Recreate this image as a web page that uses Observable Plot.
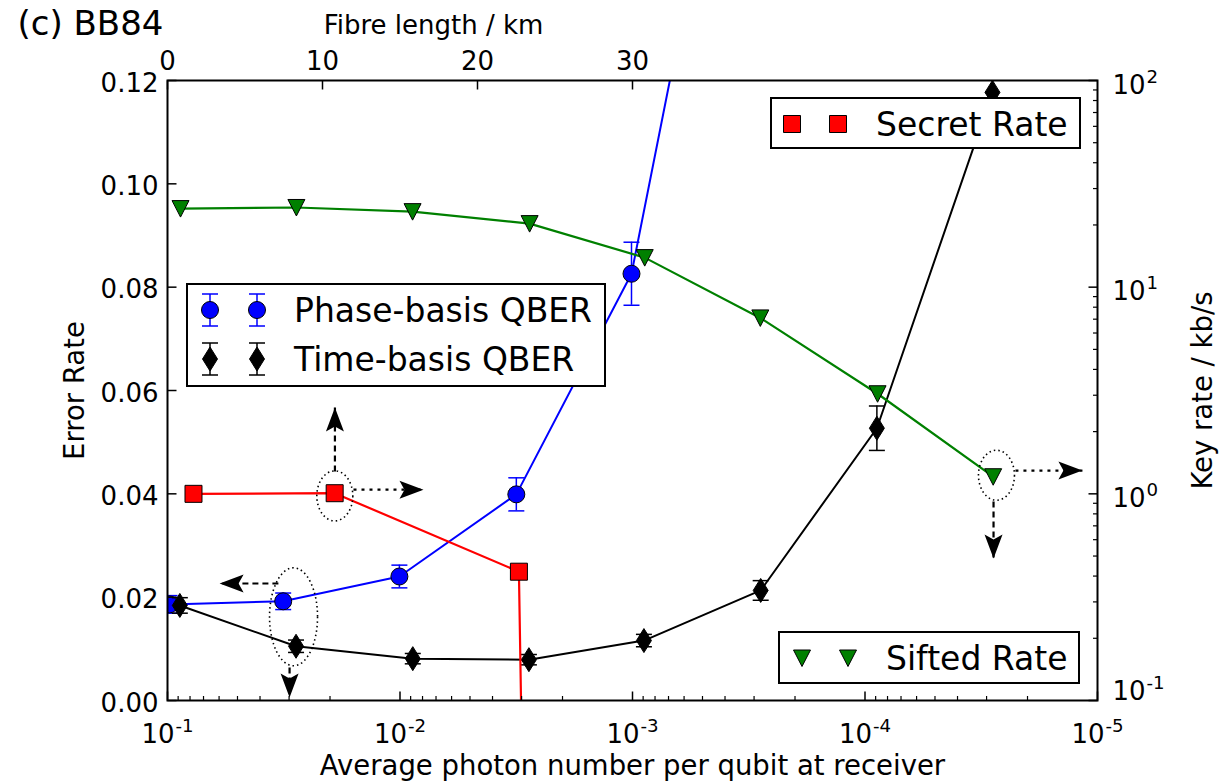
<!DOCTYPE html>
<html>
<head>
<meta charset="utf-8">
<script src="https://cdn.jsdelivr.net/npm/d3@7"></script>
<script src="https://cdn.jsdelivr.net/npm/@observablehq/plot@0.6"></script>
<style>
  html, body { margin: 0; padding: 0; background: #fff; }
  #chart { position: relative; width: 1226px; height: 782px; font-family: "DejaVu Sans", sans-serif; }
  #chart svg { display: block; }
  #chart svg.legends { position: absolute; left: 0; top: 0; pointer-events: none; }
</style>
</head>
<body>
<div id="chart"></div>
<script>
// ---------- data ----------
// Phase-basis QBER (left axis) vs mean photon number per qubit
const phaseMu   = [0.098, 0.0318, 0.01006, 0.00316, 0.00101, 0.000316];
const phaseQber = [0.0186, 0.0192, 0.0240, 0.0399, 0.0826, 0.197];
const phaseSd   = [0.0017, 0.0016, 0.0022, 0.0032, 0.0061, 0.012];

// Time-basis QBER (left axis)
const timeMu   = [0.0885, 0.0280, 0.00881, 0.00279, 0.000893, 0.000281, 0.0000889, 0.0000283];
const timeQber = [0.0184, 0.0105, 0.0081, 0.0079, 0.0116, 0.0213, 0.0527, 0.1177];
const timeSd   = [0.0015, 0.0012, 0.0010, 0.0010, 0.0012, 0.0019, 0.0043, 0.0060];

// Sifted key rate, kb/s (right axis)
const siftedMu   = [0.0879, 0.0279, 0.00883, 0.00277, 0.000886, 0.000282, 0.0000883, 0.0000281];
const siftedRate = [24.0, 24.3, 23.2, 20.3, 13.9, 7.1, 3.05, 1.21];

// Secret key rate, kb/s (right axis)
const secretMu   = [0.0773, 0.0191, 0.00308, 0.00282];
const secretRate = [1.0, 1.007, 0.42, 0.001];

// Axis domains and ticks ("^" marks an exponent)
const muDomain   = [1e-1, 1e-5];
const qberDomain = [0, 0.12];
const rateDomain = [0.1, 100];
const muTicks       = [1e-1, 1e-2, 1e-3, 1e-4, 1e-5];
const muTickLabels  = ["10^-1", "10^-2", "10^-3", "10^-4", "10^-5"];
const qberTicks      = [0, 0.02, 0.04, 0.06, 0.08, 0.10, 0.12];
const qberTickLabels = ["0.00", "0.02", "0.04", "0.06", "0.08", "0.10", "0.12"];
const rateTicks      = [0.1, 1, 10, 100];
const rateTickLabels = ["10^-1", "10^0", "10^1", "10^2"];
const fibreTicks      = [0, 10, 20, 30];
const fibreTickLabels = ["0", "10", "20", "30"];
const fibreKmPerDecade = 15;   // fibre loss: 15 km of fibre per decade of mu

// Call-outs: rings around points and the arrows pointing to their axis
const ringMu   = [0.01907, 0.0287, 0.0000272];
const ringQber = [0.0396, 0.0162, 0.0436];
const arrowFromMu   = [0.01905, 0.01585, 0.03334, 0.02985, 0.00002254, 0.0000280];
const arrowFromQber = [0.0443, 0.0408, 0.02265, 0.00639, 0.0445, 0.0385];
const arrowToMu     = [0.01905, 0.007925, 0.0597, 0.02985, 0.00001161, 0.0000280];
const arrowToQber   = [0.0567, 0.0408, 0.02265, 0.00058, 0.0445, 0.02748];

// ---------- helpers ----------
const log10 = Math.log10;
// map a key rate (log right axis) onto the error-rate coordinate of the left axis
const rateToY = r => qberDomain[0] +
  (log10(r) - log10(rateDomain[0])) / (log10(rateDomain[1]) - log10(rateDomain[0])) * (qberDomain[1] - qberDomain[0]);
const kmToMu = km => muDomain[0] * Math.pow(10, -km / fibreKmPerDecade);

const phase  = phaseMu.map((mu, i) => ({mu, q: phaseQber[i], sd: phaseSd[i]}));
const time   = timeMu.map((mu, i) => ({mu, q: timeQber[i], sd: timeSd[i]}));
const sifted = siftedMu.map((mu, i) => ({mu, q: rateToY(siftedRate[i])}));
const secret = secretMu.map((mu, i) => ({mu, q: rateToY(secretRate[i])}));
const rings  = ringMu.map((mu, i) => ({mu, q: ringQber[i], tall: i === 1}));
const arrows = arrowFromMu.map((mu, i) => ({
  x1: mu, y1: arrowFromQber[i], x2: arrowToMu[i], y2: arrowToQber[i],
  rot: mu === arrowToMu[i] ? (arrowToQber[i] > arrowFromQber[i] ? 0 : 180) : (arrowToMu[i] < mu ? 90 : -90),
  dotted: mu !== arrowToMu[i] && i !== 2
}));
const rateLabels = rateTicks.map((r, i) => ({r, label: rateTickLabels[i], bottom: i === 0}));

const minorDecades = (lo, hi) => {
  const out = [];
  for (let e = lo; e < hi; e++) for (let k = 2; k <= 9; k++) out.push(k * Math.pow(10, e));
  return out;
};
const muMinor   = minorDecades(-5, -1);
const rateMinor = minorDecades(-1, 2);

// ---------- marker shapes ----------
const sym = {
  circle:  {draw(c) { c.moveTo(8.5, 0); c.arc(0, 0, 8.5, 0, 2 * Math.PI); c.closePath(); }},
  diamond: {draw(c) { c.moveTo(0, -12); c.lineTo(7.5, 0); c.lineTo(0, 12); c.lineTo(-7.5, 0); c.closePath(); }},
  square:  {draw(c) { c.rect(-8.5, -8.5, 17, 17); }},
  triDown: {draw(c) { c.moveTo(-8.5, -8); c.lineTo(8.5, -8); c.lineTo(0, 8.5); c.closePath(); }},
  cap:     {draw(c) { c.moveTo(-8, 0); c.lineTo(8, 0); }},
  tickMajor: {draw(c) { c.moveTo(0, 0); c.lineTo(0, -9); }},
  tickMinor: {draw(c) { c.moveTo(0, 0); c.lineTo(0, -4.5); }},
  head:    {draw(c) { c.moveTo(0, 0); c.lineTo(9, 24); c.lineTo(0, 19); c.lineTo(-9, 24); c.closePath(); }}
};
function ellipse(rx, ry) {
  const k = 0.5523;
  return {draw(c) {
    c.moveTo(rx, 0);
    c.bezierCurveTo(rx, ry * k, rx * k, ry, 0, ry);
    c.bezierCurveTo(-rx * k, ry, -rx, ry * k, -rx, 0);
    c.bezierCurveTo(-rx, -ry * k, -rx * k, -ry, 0, -ry);
    c.bezierCurveTo(rx * k, -ry, rx, -ry * k, rx, 0);
    c.closePath();
  }};
}

const BLUE = "#0000ff", RED = "#ff0000", GREEN = "#008000", BLACK = "#000000";
const FS = 26, LABEL_FS = 27.5;

function errorBars(data, color) {
  return [
    Plot.ruleX(data, {x: "mu", y1: d => d.q - d.sd, y2: d => d.q + d.sd, stroke: color, strokeWidth: 1.5, clip: true}),
    Plot.dot(data, {x: "mu", y: d => d.q + d.sd, symbol: sym.cap, fill: "none", stroke: color, strokeWidth: 1.5, clip: true}),
    Plot.dot(data, {x: "mu", y: d => d.q - d.sd, symbol: sym.cap, fill: "none", stroke: color, strokeWidth: 1.5, clip: true})
  ];
}

const chart = Plot.plot({
  width: 1226,
  height: 782,
  marginTop: 80, marginRight: 129, marginBottom: 82, marginLeft: 167,
  style: {fontFamily: '"DejaVu Sans", sans-serif', fontSize: FS + "px", color: "black", background: "white"},
  x: {type: "log", domain: muDomain, axis: null},
  y: {domain: qberDomain, axis: null},
  marks: [
    // phase-basis QBER
    ...errorBars(phase, BLUE),
    Plot.line(phase, {x: "mu", y: "q", stroke: BLUE, strokeWidth: 2, clip: true}),
    Plot.dot(phase, {x: "mu", y: "q", symbol: sym.circle, fill: BLUE, stroke: BLACK, strokeWidth: 1, clip: true}),
    // time-basis QBER
    ...errorBars(time, BLACK),
    Plot.line(time, {x: "mu", y: "q", stroke: BLACK, strokeWidth: 2, clip: true}),
    Plot.dot(time, {x: "mu", y: "q", symbol: sym.diamond, fill: BLACK, stroke: BLACK, strokeWidth: 1}),
    // sifted rate (right axis)
    Plot.line(sifted, {x: "mu", y: "q", stroke: GREEN, strokeWidth: 2.2, clip: true}),
    Plot.dot(sifted, {x: "mu", y: "q", symbol: sym.triDown, fill: GREEN, stroke: BLACK, strokeWidth: 1}),
    // secret rate (right axis)
    Plot.line(secret, {x: "mu", y: "q", stroke: RED, strokeWidth: 2.2, clip: true}),
    Plot.dot(secret, {x: "mu", y: "q", symbol: sym.square, fill: RED, stroke: BLACK, strokeWidth: 1, clip: true}),
    // call-outs
    Plot.dot(rings.filter(d => !d.tall), {x: "mu", y: "q", symbol: ellipse(18, 25), fill: "none", stroke: BLACK, strokeWidth: 1.6, strokeDasharray: "1.5,3"}),
    Plot.dot(rings.filter(d => d.tall), {x: "mu", y: "q", symbol: ellipse(24, 49), fill: "none", stroke: BLACK, strokeWidth: 1.6, strokeDasharray: "1.5,3"}),
    Plot.link(arrows.filter(d => d.dotted), {x1: "x1", y1: "y1", x2: "x2", y2: "y2", stroke: BLACK, strokeWidth: 2.2, strokeDasharray: "3,5"}),
    Plot.link(arrows.filter(d => !d.dotted), {x1: "x1", y1: "y1", x2: "x2", y2: "y2", stroke: BLACK, strokeWidth: 2.2, strokeDasharray: "6,4"}),
    Plot.dot(arrows, {x: "x2", y: "y2", rotate: "rot", symbol: sym.head, fill: BLACK, stroke: "none"}),
    // bottom axis: mean photon number (log, decreasing)
    Plot.dot(muTicks, {x: d => d, frameAnchor: "bottom", symbol: sym.tickMajor, fill: "none", stroke: BLACK, strokeWidth: 1.5}),
    Plot.dot(muMinor, {x: d => d, frameAnchor: "bottom", symbol: sym.tickMinor, fill: "none", stroke: BLACK, strokeWidth: 1.2}),
    Plot.text(muTicks, {x: d => d, frameAnchor: "bottom", dy: 34, lineAnchor: "middle", textAnchor: "middle", text: (d, i) => muTickLabels[i], fontSize: FS}),
    // top axis: fibre length
    Plot.dot(fibreTicks, {x: kmToMu, frameAnchor: "top", rotate: 180, symbol: sym.tickMajor, fill: "none", stroke: BLACK, strokeWidth: 1.5}),
    Plot.text(fibreTicks, {x: kmToMu, frameAnchor: "top", dy: -19, lineAnchor: "middle", textAnchor: "middle", text: (d, i) => fibreTickLabels[i], fontSize: FS}),
    // left axis: error rate
    Plot.dot(qberTicks, {y: d => d, frameAnchor: "left", rotate: 90, symbol: sym.tickMajor, fill: "none", stroke: BLACK, strokeWidth: 1.5}),
    Plot.text(qberTicks, {y: d => d, frameAnchor: "left", dx: -9, dy: 3, lineAnchor: "middle", textAnchor: "end", text: (d, i) => qberTickLabels[i], fontSize: FS}),
    // right axis: key rate (log); the lowest label sits a little above its tick
    Plot.dot(rateTicks, {y: rateToY, frameAnchor: "right", rotate: -90, symbol: sym.tickMajor, fill: "none", stroke: BLACK, strokeWidth: 1.5}),
    Plot.dot(rateMinor, {y: rateToY, frameAnchor: "right", rotate: -90, symbol: sym.tickMinor, fill: "none", stroke: BLACK, strokeWidth: 1.2}),
    Plot.text(rateLabels.filter(d => !d.bottom), {y: d => rateToY(d.r), frameAnchor: "right", dx: 15, dy: 5, lineAnchor: "middle", textAnchor: "start", text: "label", fontSize: FS}),
    Plot.text(rateLabels.filter(d => d.bottom), {y: d => rateToY(d.r), frameAnchor: "right", dx: 15, dy: -9, lineAnchor: "middle", textAnchor: "start", text: "label", fontSize: FS}),
    // titles
    Plot.text(["Average photon number per qubit at receiver"], {frameAnchor: "bottom", dy: 66, lineAnchor: "middle", textAnchor: "middle", text: d => d, fontSize: LABEL_FS}),
    Plot.text(["Error Rate"], {frameAnchor: "left", dx: -92, rotate: -90, lineAnchor: "middle", textAnchor: "middle", text: d => d, fontSize: LABEL_FS}),
    Plot.text(["Key rate / kb/s"], {frameAnchor: "right", dx: 106, rotate: -90, lineAnchor: "middle", textAnchor: "middle", text: d => d, fontSize: LABEL_FS}),
    Plot.text(["Fibre length / km"], {frameAnchor: "top-left", dx: 266, dy: -55, lineAnchor: "middle", textAnchor: "middle", text: d => d, fontSize: 26}),
    Plot.text(["(c) BB84"], {frameAnchor: "top-left", dx: -150, dy: -56, lineAnchor: "middle", textAnchor: "start", text: d => d, fontSize: 34}),
    Plot.frame({stroke: BLACK, strokeWidth: 2})
  ]
});

// typeset "10^n" tick labels with a raised, smaller exponent
d3.select(chart).selectAll("text").each(function() {
  const t = this.textContent;
  const m = /^(\d+)\^(.+)$/.exec(t);
  if (!m) return;
  const sel = d3.select(this);
  sel.text(m[1]);
  sel.append("tspan").attr("dy", "-0.62em").attr("dx", "0.05em").attr("font-size", "0.7em").text(m[2]);
});

const root = document.getElementById("chart");
root.appendChild(chart);

// ---------- legends ----------
const legends = [
  {left: 770, top: 97, w: 311, h: 52, iconX: [22, 68], textX: 106,
   rows: [{label: "Secret Rate", y: 27, shape: sym.square, fill: RED}]},
  {left: 186, top: 283, w: 420, h: 104, iconX: [24, 71], textX: 108,
   rows: [{label: "Phase-basis QBER", y: 27, shape: sym.circle, fill: BLUE, bar: BLUE},
          {label: "Time-basis QBER", y: 76, shape: sym.diamond, fill: BLACK, bar: BLACK}]},
  {left: 778, top: 631, w: 302, h: 53, iconX: [24, 70], textX: 108,
   rows: [{label: "Sifted Rate", y: 27, shape: sym.triDown, fill: GREEN}]}
];
const pathOf = s => { const p = d3.path(); s.draw(p, 64); return p.toString(); };

const overlay = d3.select(root).append("svg")
  .attr("class", "legends").attr("width", 1226).attr("height", 782)
  .attr("font-family", '"DejaVu Sans", sans-serif');

for (const L of legends) {
  const g = overlay.append("g").attr("transform", `translate(${L.left},${L.top})`);
  g.append("rect").attr("x", 1).attr("y", 1).attr("width", L.w - 2).attr("height", L.h - 2)
    .attr("fill", "white").attr("stroke", "black").attr("stroke-width", 2);
  for (const r of L.rows) {
    for (const x of L.iconX) {
      const m = g.append("g").attr("transform", `translate(${x},${r.y})`);
      if (r.bar) {
        m.append("path").attr("d", "M0,-16V16M-8,-16H8M-8,16H8")
          .attr("stroke", r.bar).attr("stroke-width", 1.5).attr("fill", "none");
      }
      m.append("path").attr("d", pathOf(r.shape)).attr("fill", r.fill).attr("stroke", "black").attr("stroke-width", 1);
    }
    g.append("text").attr("x", L.textX).attr("y", r.y).attr("dy", "0.36em")
      .attr("font-size", 33).attr("fill", "black").text(r.label);
  }
}
</script>
</body>
</html>
